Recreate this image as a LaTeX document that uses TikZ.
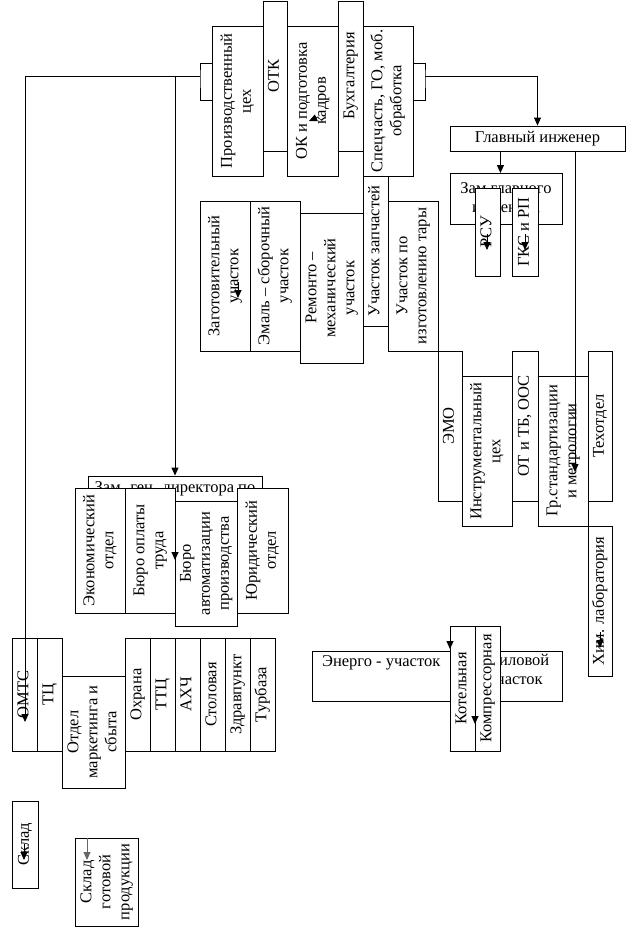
\documentclass[tikz,border=0pt]{standalone}
\usepackage{fontspec}
\setmainfont{Liberation Serif}
\usepackage{graphicx}
\usetikzlibrary{arrows.meta,calc}
\newcommand\orgfont{\fontsize{16.5}{19}\selectfont}
\newcommand\vtext[1]{\rotatebox{90}{\begin{tabular}{@{}c@{}}#1\end{tabular}}}
\tikzset{
  >={Triangle[length=8pt,width=7pt]},
  unit/.style={draw,fill=white,line width=0.9pt,inner sep=0pt,font=\orgfont},
  sz/.style 2 args={minimum width=#1pt,minimum height=#2pt},
  link/.style={->,line width=0.9pt},
  lbl/.style={font=\orgfont,inner sep=0pt,align=left},
}
\begin{document}
\begin{tikzpicture}[x=1pt,y=-1pt]
\useasboundingbox (0,0) rectangle (638,951);

% top row
\node[unit,sz={25}{150}] (zap) at (375.5,251) {\vtext{Участок запчастей}};
\node[unit,sz={51}{150}] (prod) at (237.5,101) {\vtext{Производственный\\цех}};
\node[unit,sz={24}{150}] (otk) at (275,76) {\vtext{ОТК}};
\node[unit,sz={51}{150}] (ok) at (312.5,101) {\vtext{ОК и подготовка\\кадров}};
\node[unit,sz={25}{150}] (buh) at (350.5,76) {\vtext{Бухгалтерия}};
\node[unit,sz={50}{150}] (spec) at (388,101) {\vtext{Спецчасть, ГО, моб.\\обработка}};

% chief engineer
\node[unit,sz={175}{25}] (gi) at (537.5,138.5) {Главный инженер};
\node[unit,sz={112}{51},align=center] (zgi) at (506,199) {Зам главного\\инженера};
\node[unit,sz={25}{88}] (rsu) at (487.5,232) {\vtext{РСУ}};
\node[unit,sz={26}{88}] (gks) at (525,232) {\vtext{ГКС и РП}};

% shops
\node[unit,sz={50}{150}] (zag) at (225,276) {\vtext{Заготовительный\\участок}};
\node[unit,sz={50}{150}] (emal) at (275,276) {\vtext{Эмаль -- сборочный\\участок}};
\node[unit,sz={63}{150}] (rem) at (331.5,288) {\vtext{Ремонто --\\механический\\участок}};
\node[unit,sz={50}{150}] (tara) at (413,276) {\vtext{Участок по\\изготовлению тары}};

\node[unit,sz={24}{150}] (emo) at (450,426) {\vtext{ЭМО}};
\node[unit,sz={50}{150}] (instr) at (487,451) {\vtext{Инструментальный\\цех}};
\node[unit,sz={26}{150}] (otb) at (525,426) {\vtext{ОТ и ТБ, ООС}};
\node[unit,sz={50}{150}] (grst) at (563,451) {\vtext{Гр.стандартизации\\и метрологии}};
\node[unit,sz={24}{150}] (tex) at (600,426) {\vtext{Техотдел}};
\node[unit,sz={24}{150}] (xim) at (600,601) {\vtext{Хим. лаборатория}};

% deputy director
\node[unit,sz={174}{26}] (zgd) at (175,489) {Зам. ген. директора по};
\node[unit,sz={50}{125}] (econ) at (100,550.5) {\vtext{Экономический\\отдел}};
\node[unit,sz={50}{125}] (bot) at (150,550.5) {\vtext{Бюро оплаты\\труда}};
\node[unit,sz={62}{125}] (bavt) at (206,563.5) {\vtext{Бюро\\автоматизации\\производства}};
\node[unit,sz={51}{125}] (yur) at (262.5,550.5) {\vtext{Юридический\\отдел}};

% energy
\node[unit,sz={250}{50}] (energo) at (437,676) {};
\node[lbl,anchor=base west] (energoL) at (322,666) {Энерго - участок};
\node[lbl,anchor=base west] (silov) at (488,684) {Силовой\\участок};
\node[unit,sz={25}{125}] (kot) at (462.5,688.5) {\vtext{Котельная}};
\node[unit,sz={25}{125}] (komp) at (487.5,688.5) {\vtext{Компрессорная}};

% bottom row
\node[unit,sz={25}{113}] (omts) at (24.5,694.5) {\vtext{ОМТС}};
\node[unit,sz={25}{113}] (tc) at (49.5,694.5) {\vtext{ТЦ}};
\node[unit,sz={63}{112}] (mark) at (93.5,732) {\vtext{Отдел\\маркетинга и\\сбыта}};
\foreach \n/\x/\t in {ohr/137.5/Охрана,ttc/162.5/ТТЦ,ahch/187.5/АХЧ,
  stol/212.5/Столовая,zdr/237.5/Здравпункт,turb/262.5/Турбаза}
  \node[unit,sz={25}{113}] (\n) at (\x,694.5) {\vtext{\t}};

\node[unit,sz={26}{87}] (sklad) at (25,844.5) {\vtext{Склад}};
\node[unit,sz={63}{88}] (sgp) at (106.5,882) {\vtext{Склад\\готовой\\продукции}};

% connectors
\coordinate (jl) at (200,76);
\coordinate (jr) at (425,76);
\coordinate (omtsTip) at (25,722);
\coordinate (grTip) at (575,472);
\draw[line width=0.9pt] (prod.west |- 0,63) -| (jl) |- (prod.west |- 0,100);
\draw[line width=0.9pt] (spec.east |- 0,63) -| (jr) |- (spec.east |- 0,100);
\draw[link] (jl) -| (omtsTip);
\draw[link] (jl -| zgd.north) -- (zgd.north);
\draw[link] (jr) -| (gi.north);
\draw[link] (gi.south -| rsu.east) -- (zgi.north -| rsu.east);
\draw[link] (gi.south -| grTip) -- (grTip);

% stray arrow heads
\foreach \n/\x/\y in {tZag/238/298,tRsu/487/250,tGks/525/250,tBot/175/560,
  tXim/600/648,tKot/450/649,tKomp/475/724,tSklad/24/860}{
  \coordinate (\n) at (\x,\y);
  \draw[link] (\n) ++(0,-16) -- (\n);
}
\coordinate (tOk) at (309,121);
\draw[link] (tOk) ++(9,-4) -- (tOk);
\draw[link,black!60] (sgp.north -| 87,0) -- (87,860);
\end{tikzpicture}
\end{document}
